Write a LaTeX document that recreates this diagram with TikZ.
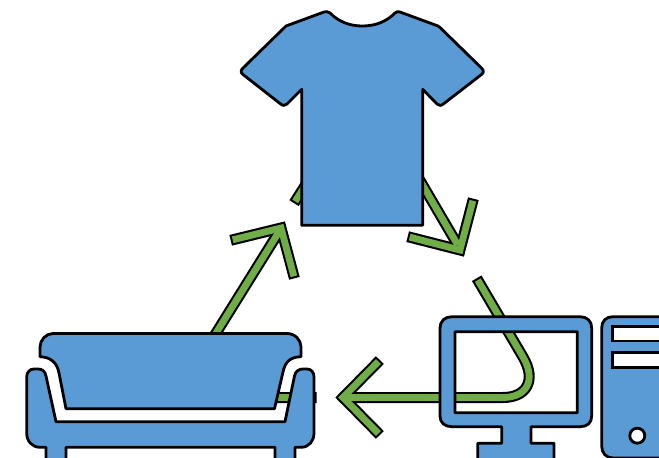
\documentclass[tikz,border=0pt]{standalone}
\definecolor{shapeblue}{HTML}{5B9BD5}
\definecolor{arrowgreen}{HTML}{70AD47}
\tikzset{
  iconshape/.style={draw=black,fill=shapeblue,line width=2.8pt,line join=round},
  slot/.style={draw=black,fill=white,line width=2.8pt,line join=miter},
  bandout/.style={draw=black,line width=11pt,line cap=rect,line join=miter,miter limit=10},
  bandin/.style={draw=arrowgreen,line width=6.8pt,line cap=rect,line join=miter,miter limit=10}
}
\newcommand{\bandshaftA}{(311,397.5) [rounded corners=20pt] -- (176,397.5) -- (277,235)}
\newcommand{\bandheadA}{(236,239) -- (281,228) -- (293,273)}
\newcommand{\bandtail}{(297,198.5) -- (310,178)}
\newcommand{\bandshaftB}{(415,172) -- (456,242)}
\newcommand{\bandheadB}{(472,204) -- (460,250) -- (413,238)}
\newcommand{\bandshaftC}{(479.5,283) -- (523,357) .. controls (537,381) and (526,397.5) .. (503,397.5) -- (350,397.5)}
\newcommand{\bandheadC}{(376,364) -- (343,397.5) -- (376,431)}
\begin{document}
\begin{tikzpicture}[x=1pt,y=-1pt]
\useasboundingbox (0,0) rectangle (659,458);
\clip (0,0) rectangle (659,458);
% arrows (behind the icons)
\draw[bandout] \bandshaftA; \draw[bandout] \bandheadA;
\draw[bandin] \bandshaftA; \draw[bandin] \bandheadA;
\draw[bandout] \bandtail; \draw[bandin] \bandtail;
\draw[bandout] \bandshaftB; \draw[bandout] \bandheadB;
\draw[bandin] \bandshaftB; \draw[bandin] \bandheadB;
\draw[bandout] \bandshaftC; \draw[bandout] \bandheadC;
\draw[bandin] \bandshaftC; \draw[bandin] \bandheadC;
% shirt
\draw[iconshape] (330,13) .. controls (339,22) and (350,26) .. (362.3,26)
  .. controls (375,26) and (386,22) .. (395,13)
  .. controls (396.5,11.5) and (398,11.3) .. (400,12)
  -- (438,26) -- (440,27.5) -- (481.5,68)
  .. controls (484,70.5) and (484,72.5) .. (481.5,74.5)
  -- (444,103.5) .. controls (441,106) and (439,106) .. (437,104)
  -- (422.7,89.3) -- (422.7,225.3) -- (301.7,225.3) -- (301.7,89.3)
  -- (287,104) .. controls (285,106) and (283,106) .. (280,103.5)
  -- (243,74.5) .. controls (240.5,72.5) and (240.5,70.5) .. (243,68)
  -- (284.5,27.5) -- (286,26) -- (324,12)
  .. controls (326,11.3) and (328,11.5) .. (330,13) -- cycle;
% sofa back
\draw[iconshape] (53,333.5) -- (287,333.5)
  .. controls (295,333.5) and (301,340) .. (301,347)
  -- (301,356.7) .. controls (290,357) and (285,362) .. (283,372)
  -- (274.5,408.7) -- (66,408.7) -- (59,373)
  .. controls (57,362) and (50,357) .. (40,356.7)
  -- (40,347) .. controls (40,340) and (46,333.5) .. (53,333.5) -- cycle;
% sofa base
\draw[iconshape] (26.7,377)
  .. controls (26.7,372) and (30,369) .. (34,369)
  -- (38,369) .. controls (42,369) and (45,371) .. (46,376)
  -- (56,421.7) -- (285,421.7) -- (294.5,376)
  .. controls (295.5,371) and (299,369) .. (303,369)
  -- (307,369) .. controls (311,369) and (314,372) .. (314,377)
  -- (314,433) .. controls (314,441) and (309,447.3) .. (301,447.3)
  -- (295,447.3) -- (295,462) -- (275,462) -- (275,447.3)
  -- (66,447.3) -- (66,462) -- (46,462) -- (46,447.3)
  -- (40,447.3) .. controls (32,447.3) and (26.7,441) .. (26.7,433) -- cycle;
% monitor
\draw[iconshape,even odd rule] (452,316.7) -- (580,316.7)
  .. controls (587,316.7) and (591.7,321) .. (591.7,328)
  -- (591.7,416) .. controls (591.7,423) and (587,426.7) .. (580,426.7)
  -- (531,426.7) -- (531,443.3) -- (554,443.3) -- (554,462)
  -- (477.7,462) -- (477.7,443.3) -- (501.7,443.3) -- (501.7,426.7)
  -- (452,426.7) .. controls (445,426.7) and (440,423) .. (440,416)
  -- (440,328) .. controls (440,321) and (445,316.7) .. (452,316.7) -- cycle
  (455,331.7) rectangle (577.3,412.7);
% tower
\draw[iconshape] (670,316.7) -- (613,316.7)
  .. controls (606,316.7) and (601.7,321) .. (601.7,328)
  -- (601.7,446) .. controls (601.7,453) and (606,458) .. (613,458)
  -- (670,458) -- cycle;
\draw[slot] (612.3,326.7) rectangle (670,341);
\draw[slot] (612.3,352.7) rectangle (670,367.3);
\draw[slot] (637.3,435.7) circle (7.5);
\end{tikzpicture}
\end{document}
